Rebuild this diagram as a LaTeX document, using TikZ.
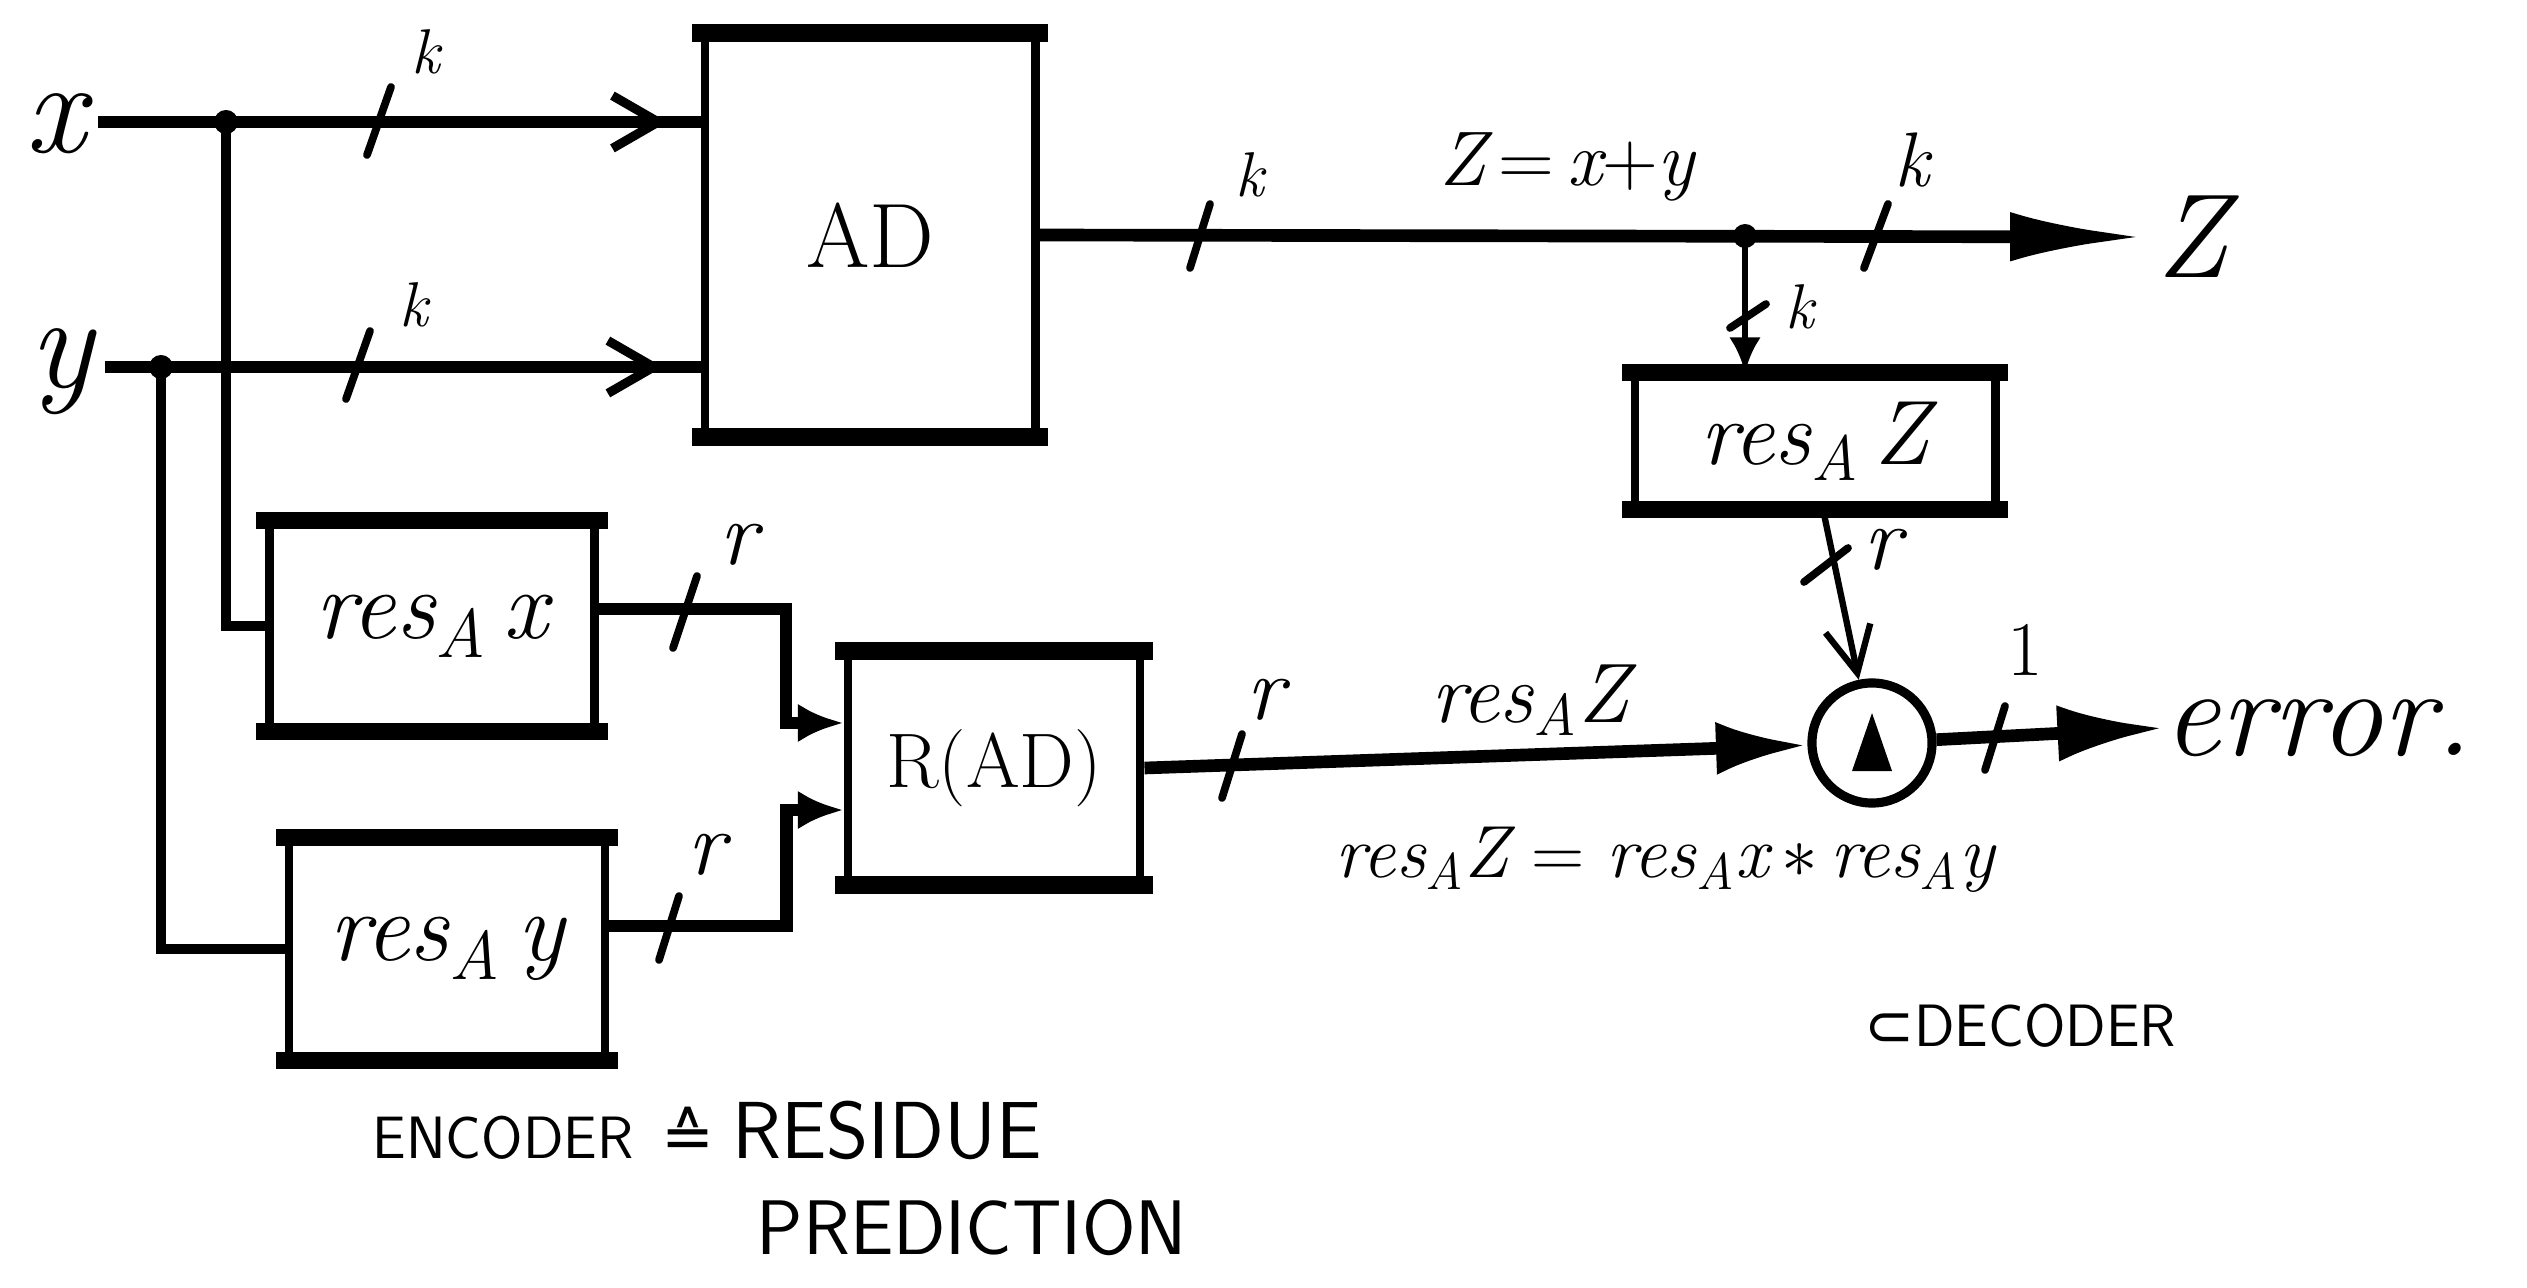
\documentclass[tikz,border=0pt]{standalone}
\usepackage{fontspec}
\newfontfamily\symf{DejaVu Sans}
\usetikzlibrary{arrows.meta,decorations.markings}
\newcommand\fs[1]{\fontsize{#1}{#1}\selectfont}
\newcommand\resA{{\itshape res}\textsubscript{\itshape A}}
\begin{document}
\begin{tikzpicture}[x=0.01cm,y=-0.01cm,
  box/.style={draw,line width=2.5pt,inner sep=0pt},
  wire/.style={line width=3.6pt},
  vwire/.style={line width=2.6pt},
  thinwire/.style={line width=1.8pt},
  tickline/.style={line width=2.2pt,line cap=round},
  dotj/.style={circle,fill,inner sep=0pt,minimum size=0.24cm},
  lbl/.style={inner sep=0pt},
  barbmid/.style={postaction={decorate,decoration={markings,mark=at position #1 with {\arrow{Straight Barb[length=13pt,width=15pt,line width=2.6pt]}}}}},
]
\useasboundingbox (0,0) rectangle (2527,1288);

% blocks
\node[box,minimum width=3.3cm,minimum height=3.95cm] (AD) at (870,235) {\fs{26}AD};
\node[box,minimum width=3.25cm,minimum height=2.02cm] (resx) at (432,626) {\fs{28}\resA\,{\itshape x}};
\node[box,minimum width=3.16cm,minimum height=2.14cm] (resy) at (447,949) {\fs{28}\resA\,{\itshape y}};
\node[box,minimum width=2.92cm,minimum height=2.25cm] (RAD) at (994,768) {\fs{22}R(AD)};
\node[box,minimum width=3.6cm,minimum height=1.28cm] (resz) at (1815,441) {\fs{26}\resA\,{\itshape Z}};
\node[draw,circle,line width=2.6pt,minimum size=1.2cm,inner sep=0pt] (circ) at (1872,743) {};
\fill (circ.center) ++(0,-30) -- ++(20,58) -- ++(-40,0) -- cycle;
\foreach \b in {AD,resx,resy,RAD,resz}{
  \draw[line width=5pt,line cap=rect] (\b.north west) -- (\b.north east);
  \draw[line width=5pt,line cap=rect] (\b.south west) -- (\b.south east);
}

% end labels
\node (lx) at (56,124) {\fs{38}\itshape x};
\node (ly) at (61,372) {\fs{38}\itshape y};
\node (lz) at (2192,237) {\fs{34}\itshape Z};
\node[anchor=west,inner sep=0pt] (err) at (2163,728) {\fs{36}\itshape error.};

% junctions
\node[dotj] (dx) at (226,122) {};
\node[dotj] (dy) at (161,367) {};
\node[dotj] (dz) at (1745,236) {};

% wires
\draw[wire] (lx.east |- dx) -- (dx.center);
\draw[wire,barbmid=0.93] (dx.center) -- (dx.center -| AD.west);
\draw[wire] (ly.east |- dy) -- (dy.center);
\draw[wire,barbmid=0.93] (dy.center) -- (dy.center -| AD.west);
\draw[vwire] (dx.center) |- (resx.west);
\draw[vwire] (dy.center) |- (resy.west);
\draw[wire,-{Latex[length=13pt,width=11pt]}] ([yshift=0.17cm]resx.east) -- ++(187,0) |- ([yshift=0.45cm]RAD.west);
\draw[wire,-{Latex[length=13pt,width=11pt]}] ([yshift=0.23cm]resy.east) -- ++(177,0) |- ([yshift=-0.42cm]RAD.west);
\draw[wire,-{Latex[length=26pt,width=15pt]}] (RAD.east) -- (circ);
\draw[wire,-{Latex[length=30pt,width=16pt]}] (circ) -- (err.west);
\draw[wire,-{Latex[length=38pt,width=14pt]}] (AD.east) -- (lz.west);
\draw[thinwire,-{Latex[length=10pt,width=9pt]}] (dz.center) -- (dz.center |- resz.north);
\draw[thinwire,-{Straight Barb[length=13pt,width=13pt,line width=1.8pt]}] ([xshift=0.08cm]resz.south) -- (circ);

% ticks
\draw[tickline] (379,121) ++(-12,34) -- ++(24,-68);
\draw[tickline] (358,365) ++(-12,34) -- ++(24,-68);
\draw[tickline] (1200,236) ++(-10,32) -- ++(20,-64);
\draw[tickline] (1876,236) ++(-12,32) -- ++(24,-64);
\draw[tickline] (1748,316) ++(-18,12) -- ++(36,-24);
\draw[tickline] (685,612) ++(-12,36) -- ++(24,-72);
\draw[tickline] (669,928) ++(-10,32) -- ++(20,-64);
\draw[tickline] (1232,766) ++(-10,32) -- ++(20,-64);
\draw[tickline] (1826,565) ++(-22,17) -- ++(44,-34);
\draw[tickline] (1995,738) ++(-10,32) -- ++(20,-64);

% tick labels
\node[lbl] (kx) at (426,52) {\fs{18}\itshape k};
\node[lbl] (ky) at (414,305) {\fs{18}\itshape k};
\node[lbl] (k1) at (1250,175) {\fs{18}\itshape k};
\node[lbl] (k2) at (1912,160) {\fs{22}\itshape k};
\node[lbl] (k3) at (1800,307) {\fs{18}\itshape k};
\node[lbl] (r1) at (738,545) {\fs{26}\itshape r};
\node[lbl] (r2) at (706,855) {\fs{26}\itshape r};
\node[lbl] (r3) at (1265,700) {\fs{26}\itshape r};
\node[lbl] (r4) at (1882,550) {\fs{26}\itshape r};
\node[lbl] (one) at (2025,650) {\fs{22}1};

% annotations
\node[lbl] (eqz) at (1567,167) {\fs{22}{\itshape Z}\,=\,{\itshape x}+{\itshape y}};
\node[lbl] (rz) at (1530,700) {\fs{24}\resA{\itshape Z}};
\node[lbl] (eq) at (1665,860) {\fs{21}\resA{\itshape Z} = \resA{\itshape x}\,$*$\,\resA{\itshape y}};
\node[lbl] (dec) at (2020,1026) {\fs{17}\sffamily{\symf ⊂}DECODER};
\node[lbl,anchor=base west] (enc) at (372,1158) {\sffamily\fs{17}ENCODER\hspace{8pt}{\symf\fs{18}≙}\hspace{5pt}\fs{23}RESIDUE};
\node[lbl,anchor=west] (pred) at (756,1228) {\fs{22}\sffamily PREDICTION};
\end{tikzpicture}
\end{document}
